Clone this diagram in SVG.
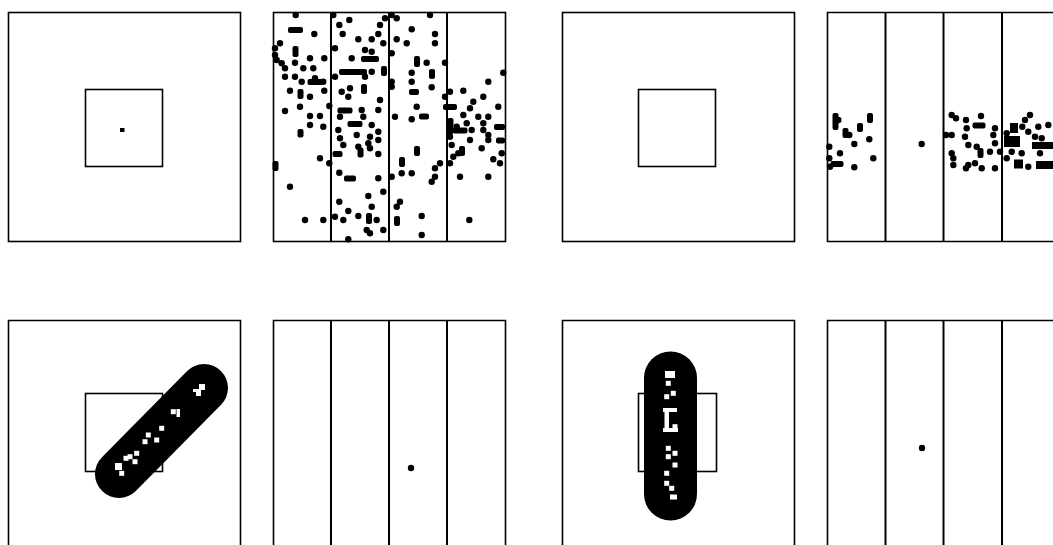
<svg xmlns="http://www.w3.org/2000/svg" xmlns:xlink="http://www.w3.org/1999/xlink" width="1053" height="545" viewBox="0 0 1053 545">
<style>
.f{fill:none;stroke:#000;stroke-width:1.6}
.dv{stroke:#000;stroke-width:2}
.k{fill:#000}
.w{fill:#fff}
.saus{stroke:#000;stroke-linecap:round;fill:none}
</style>
<defs>
<circle id="p" r="3.2" fill="#000"/>
<rect id="q" x="-2.5" y="-2.5" width="5" height="5" fill="#fff"/>
</defs>
<rect width="1053" height="545" fill="#fff"/>

<g id="panel-a1">
<rect class="f" x="8.5" y="12.5" width="232" height="229"/>
<rect class="f" x="85.5" y="89.5" width="77" height="77"/>
<rect class="k" x="120" y="128" width="4.5" height="4"/>
</g>

<g id="panel-a2">
<rect class="f" x="273.5" y="12.5" width="232" height="229"/>
<line class="dv" x1="331" y1="12" x2="331" y2="242"/>
<line class="dv" x1="389" y1="12" x2="389" y2="242"/>
<line class="dv" x1="447" y1="12" x2="447" y2="242"/>
<g id="dots-a2">
<use href="#p" x="295.7" y="15"/><rect class="k" x="288" y="27" width="15" height="6" rx="2"/><use href="#p" x="314.3" y="34"/>
<use href="#p" x="280" y="43.3"/><use href="#p" x="275" y="48.3"/><rect class="k" x="292.5" y="46" width="6" height="11" rx="2"/>
<use href="#p" x="275" y="55"/><use href="#p" x="276.7" y="60"/><use href="#p" x="281.7" y="63.3"/><use href="#p" x="310" y="58.3"/>
<use href="#p" x="324.3" y="58.3"/><use href="#p" x="295" y="62.7"/><use href="#p" x="285" y="68.3"/><use href="#p" x="303.3" y="68.3"/>
<use href="#p" x="313.3" y="68.3"/><use href="#p" x="285" y="76.7"/><use href="#p" x="295" y="76.7"/><use href="#p" x="301.7" y="81.7"/>
<rect class="k" x="307.5" y="79" width="15" height="6" rx="2"/><use href="#p" x="315" y="78.3"/><use href="#p" x="323.3" y="81.7"/>
<use href="#p" x="290" y="90.7"/><rect class="k" x="297.5" y="89" width="6" height="10" rx="2"/><use href="#p" x="310" y="96.7"/>
<use href="#p" x="324.3" y="90.7"/><use href="#p" x="300" y="106.7"/><use href="#p" x="285" y="111"/><use href="#p" x="329.3" y="106"/>
<use href="#p" x="310" y="116"/><use href="#p" x="320" y="116"/><use href="#p" x="310" y="125"/><use href="#p" x="323.3" y="126.7"/>
<rect class="k" x="297.5" y="129" width="6" height="8.5" rx="2"/><use href="#p" x="320" y="158.3"/><use href="#p" x="329.3" y="163.3"/>
<rect class="k" x="272.5" y="161" width="6" height="10" rx="2"/><use href="#p" x="290" y="186.7"/><use href="#p" x="305" y="220"/><use href="#p" x="323.3" y="220"/>

<use href="#p" x="333.3" y="15"/><use href="#p" x="349.3" y="20"/><use href="#p" x="339.3" y="25"/><use href="#p" x="380" y="25"/>
<use href="#p" x="385" y="18.3"/><use href="#p" x="342.7" y="34"/><use href="#p" x="378.3" y="34"/><use href="#p" x="358.3" y="39.3"/>
<use href="#p" x="371.7" y="39.3"/><use href="#p" x="383.3" y="43.3"/><use href="#p" x="335" y="48.3"/><use href="#p" x="365" y="50"/>
<use href="#p" x="371.7" y="51.7"/><rect class="k" x="361" y="56" width="18" height="6" rx="2"/><use href="#p" x="351.7" y="58.3"/>
<rect class="k" x="381" y="66" width="6" height="10" rx="2"/><rect class="k" x="339" y="69" width="28" height="6" rx="2"/>
<use href="#p" x="371.7" y="71.7"/><use href="#p" x="365" y="76.7"/><use href="#p" x="335" y="76.7"/><use href="#p" x="350" y="88.3"/>
<rect class="k" x="361" y="84" width="6" height="10" rx="2"/><use href="#p" x="341.7" y="91.7"/><use href="#p" x="348.3" y="96.7"/>
<use href="#p" x="380" y="100"/><rect class="k" x="337.5" y="107.5" width="15" height="6" rx="2"/><use href="#p" x="361.7" y="110"/>
<use href="#p" x="378.3" y="110"/><use href="#p" x="340" y="116.7"/><rect class="k" x="347.5" y="121" width="15" height="6" rx="2"/>
<use href="#p" x="363.3" y="116.7"/><use href="#p" x="371.7" y="125"/><use href="#p" x="378.3" y="131.7"/><use href="#p" x="338.3" y="130"/>
<use href="#p" x="340" y="138.3"/><use href="#p" x="356.7" y="135"/><use href="#p" x="370" y="136.7"/><use href="#p" x="343.3" y="145"/>
<use href="#p" x="358.3" y="146.7"/><use href="#p" x="368.3" y="143.3"/><use href="#p" x="378.3" y="140"/>
<rect class="k" x="332.5" y="151" width="10" height="6" rx="2"/><rect class="k" x="357.5" y="147.5" width="6" height="10" rx="2"/>
<use href="#p" x="370" y="148.3"/><use href="#p" x="378.3" y="154"/><use href="#p" x="339.3" y="172.7"/>
<rect class="k" x="344" y="175.5" width="12" height="6" rx="2"/><use href="#p" x="378.3" y="178.3"/><use href="#p" x="383.3" y="191.7"/>
<use href="#p" x="368.3" y="196"/><use href="#p" x="339.3" y="201.7"/><use href="#p" x="371.7" y="206.7"/><use href="#p" x="348.3" y="211"/>
<use href="#p" x="335" y="216.7"/><use href="#p" x="343.3" y="220"/><use href="#p" x="358.3" y="216"/>
<rect class="k" x="366" y="213" width="6" height="11" rx="2"/><use href="#p" x="376.7" y="220"/><use href="#p" x="366.7" y="230"/>
<use href="#p" x="383.3" y="230"/><use href="#p" x="348.3" y="239.3"/><use href="#p" x="370" y="233.3"/>

<use href="#p" x="391.7" y="15"/><use href="#p" x="430" y="15"/><use href="#p" x="396.7" y="18.3"/><use href="#p" x="411.7" y="29.3"/>
<use href="#p" x="435" y="34"/><use href="#p" x="435" y="43.3"/><use href="#p" x="396.7" y="39.3"/><use href="#p" x="406.7" y="43.3"/>
<use href="#p" x="391.7" y="53.3"/><rect class="k" x="414" y="56" width="6" height="11" rx="2"/><use href="#p" x="426.7" y="62.7"/>
<use href="#p" x="445" y="62.7"/><use href="#p" x="411.7" y="72.7"/><rect class="k" x="429" y="69" width="6" height="10" rx="2"/>
<use href="#p" x="391.7" y="81.7"/><use href="#p" x="411.7" y="81.7"/><use href="#p" x="431.7" y="87.3"/><use href="#p" x="391.7" y="86.7"/>
<rect class="k" x="409" y="89" width="10" height="6" rx="2"/><use href="#p" x="445" y="96.7"/><use href="#p" x="416.7" y="106.7"/>
<use href="#p" x="395" y="116.7"/><use href="#p" x="411.7" y="119.3"/><rect class="k" x="419" y="113.5" width="10" height="6" rx="2"/>
<rect class="k" x="414" y="146" width="6" height="10" rx="2"/><rect class="k" x="399" y="157" width="6" height="10" rx="2"/>
<use href="#p" x="440" y="163.3"/><use href="#p" x="435" y="168.3"/><use href="#p" x="401.7" y="173.3"/><use href="#p" x="411.7" y="173.3"/>
<use href="#p" x="391.7" y="176.7"/><use href="#p" x="435" y="176.7"/><use href="#p" x="431.7" y="181.7"/><use href="#p" x="400" y="201.7"/>
<use href="#p" x="396.7" y="206.7"/><rect class="k" x="394" y="216" width="6" height="10" rx="2"/><use href="#p" x="421.7" y="216"/>
<use href="#p" x="421.7" y="235"/>

<use href="#p" x="503.3" y="72.7"/><use href="#p" x="488.3" y="81.7"/><use href="#p" x="463.3" y="90.7"/><use href="#p" x="450" y="91.7"/>
<use href="#p" x="483.3" y="96.7"/><rect class="k" x="443" y="104" width="14" height="6" rx="2"/><use href="#p" x="473.3" y="101.7"/>
<use href="#p" x="470" y="108.3"/><use href="#p" x="498.3" y="106.7"/><use href="#p" x="463.3" y="115"/><use href="#p" x="478.3" y="116.7"/>
<use href="#p" x="488.3" y="116.7"/><rect class="k" x="447.5" y="118" width="6" height="11" rx="2"/><use href="#p" x="456.7" y="126.7"/>
<use href="#p" x="466.7" y="123.3"/><use href="#p" x="483.3" y="123.3"/><rect class="k" x="494" y="124" width="11" height="6" rx="2"/>
<rect class="k" x="447" y="127" width="6" height="7"/><rect class="k" x="452.5" y="127.5" width="15" height="6" rx="2"/>
<use href="#p" x="471.7" y="130"/><use href="#p" x="483.3" y="130"/><use href="#p" x="488.3" y="135"/><use href="#p" x="450" y="136.7"/>
<use href="#p" x="470" y="140"/><use href="#p" x="488.3" y="140"/><rect class="k" x="496" y="137.5" width="9" height="6" rx="2"/>
<use href="#p" x="451.7" y="145"/><rect class="k" x="459" y="146" width="6" height="10" rx="2"/><use href="#p" x="458.3" y="153.3"/>
<use href="#p" x="453.3" y="156.7"/><use href="#p" x="481.7" y="148.3"/><use href="#p" x="501.7" y="153.3"/><use href="#p" x="493.3" y="159.3"/>
<use href="#p" x="450" y="163.3"/><use href="#p" x="500" y="163.3"/><use href="#p" x="460" y="176.7"/><use href="#p" x="488.3" y="176.7"/>
<use href="#p" x="469.3" y="220"/>
</g>
</g>

<g id="panel-a3">
<rect class="f" x="562.5" y="12.5" width="232" height="229"/>
<rect class="f" x="638.5" y="89.5" width="77" height="77"/>
</g>

<g id="panel-a4">
<path class="f" d="M1053 12.5H827.5V241.5H1053"/>
<line class="dv" x1="885.5" y1="12" x2="885.5" y2="242"/>
<line class="dv" x1="943.5" y1="12" x2="943.5" y2="242"/>
<line class="dv" x1="1002" y1="12" x2="1002" y2="242"/>
<g id="dots-a4">
<rect class="k" x="832.5" y="113" width="6" height="17" rx="2"/><use href="#p" x="838.3" y="120"/><rect class="k" x="867" y="113" width="6" height="10" rx="2"/>
<rect class="k" x="857" y="123" width="6" height="9" rx="2"/><use href="#p" x="849.3" y="135"/><rect class="k" x="842.5" y="128" width="6" height="10" rx="2"/>
<use href="#p" x="869.3" y="139.3"/><use href="#p" x="854.3" y="144"/><use href="#p" x="829.3" y="146.7"/><use href="#p" x="840" y="153.3"/>
<use href="#p" x="873.3" y="158.3"/><use href="#p" x="829.3" y="158.3"/><rect class="k" x="830.5" y="161" width="13" height="6" rx="2"/>
<use href="#p" x="830" y="166.7"/><use href="#p" x="854.3" y="167.3"/>
<use href="#p" x="921.7" y="144"/>
<use href="#p" x="951.7" y="115"/><use href="#p" x="956" y="118.3"/><use href="#p" x="966" y="120"/><use href="#p" x="981" y="116"/>
<rect class="k" x="972.5" y="122.5" width="13" height="6" rx="2"/><use href="#p" x="966.7" y="128.3"/><use href="#p" x="995" y="128.3"/>
<use href="#p" x="946" y="135"/><use href="#p" x="951.7" y="135"/><use href="#p" x="965" y="136.7"/><use href="#p" x="993.3" y="135"/>
<use href="#p" x="968.3" y="145"/><use href="#p" x="976.7" y="146.7"/><use href="#p" x="995" y="143.3"/><use href="#p" x="951.7" y="153.3"/>
<rect class="k" x="977.5" y="148" width="6" height="10" rx="2"/><use href="#p" x="990" y="151.7"/><use href="#p" x="1000" y="151.7"/>
<use href="#p" x="953.3" y="158.3"/><use href="#p" x="975" y="163.3"/><use href="#p" x="968.3" y="165"/><use href="#p" x="953.3" y="165"/>
<use href="#p" x="966" y="168.3"/><use href="#p" x="981.7" y="168.3"/><use href="#p" x="995" y="168.3"/>
<use href="#p" x="1030" y="115"/><use href="#p" x="1025" y="120"/><rect class="k" x="1010" y="123" width="8" height="10"/>
<use href="#p" x="1022.3" y="126.7"/><use href="#p" x="1038.3" y="126.7"/><use href="#p" x="1048.3" y="125"/><use href="#p" x="1006.7" y="133.3"/>
<rect class="k" x="1004" y="136" width="16" height="11"/><use href="#p" x="1028.3" y="131.7"/><use href="#p" x="1035" y="136.7"/>
<use href="#p" x="1041.7" y="138.3"/><rect class="k" x="1032" y="142" width="21" height="7"/><use href="#p" x="1011.7" y="151.7"/>
<use href="#p" x="1021.7" y="153.3"/><use href="#p" x="1040" y="153.3"/><use href="#p" x="1006.7" y="158.3"/>
<rect class="k" x="1014" y="159.5" width="9" height="9"/><use href="#p" x="1028.3" y="166.7"/><rect class="k" x="1036" y="161" width="17" height="8"/>
</g>
</g>

<g id="panel-b1">
<path class="f" d="M8.5 545V320.5H240.5V545"/>
<rect class="f" x="85.5" y="393.5" width="77" height="78"/>
<line class="saus" x1="119" y1="474" x2="204" y2="388" stroke-width="48"/>
<g id="marks-b1">
<path class="w" d="M193 389h6v-5h6v6h-4v6h-5v-4h-3z"/>
<use href="#q" x="173.3" y="411.7"/><rect class="w" x="176.5" y="409" width="3.5" height="8"/>
<use href="#q" x="161.7" y="428.3"/><use href="#q" x="148.3" y="435"/><use href="#q" x="156.7" y="440"/><use href="#q" x="145" y="441.7"/>
<use href="#q" x="136.7" y="453.3"/><use href="#q" x="130" y="456.7"/><use href="#q" x="135" y="461.7"/><use href="#q" x="126" y="458.3"/>
<rect class="w" x="115" y="463" width="7" height="7"/><use href="#q" x="121.7" y="473.3"/>
</g>
</g>

<g id="panel-b2">
<path class="f" d="M273.5 545V320.5H505.5V545"/>
<line class="dv" x1="331" y1="320" x2="331" y2="545"/>
<line class="dv" x1="389" y1="320" x2="389" y2="545"/>
<line class="dv" x1="447" y1="320" x2="447" y2="545"/>
<use href="#p" x="411" y="468"/>
</g>

<g id="panel-b3">
<path class="f" d="M562.5 545V320.5H794.5V545"/>
<rect class="f" x="638.5" y="393.5" width="78" height="78"/>
<line class="saus" x1="670.5" y1="378" x2="670.5" y2="494" stroke-width="53"/>
<g id="marks-b3">
<rect class="w" x="665" y="371" width="10" height="7"/><use href="#q" x="668.3" y="383.3"/><use href="#q" x="673.3" y="393.3"/>
<use href="#q" x="666.7" y="396.7"/><rect class="w" x="663" y="408" width="14" height="4"/><rect class="w" x="664.5" y="410" width="4.5" height="20"/>
<use href="#q" x="675" y="426.7"/><rect class="w" x="663" y="428" width="15" height="4"/><use href="#q" x="668.3" y="448.3"/>
<use href="#q" x="675" y="453.3"/><use href="#q" x="668.3" y="456.7"/><use href="#q" x="675" y="465"/><use href="#q" x="666.7" y="473.3"/>
<use href="#q" x="666.7" y="483.3"/><use href="#q" x="671.7" y="488.3"/><rect class="w" x="670" y="494.5" width="7" height="5"/>
</g>
</g>

<g id="panel-b4">
<path class="f" d="M1053 320.5H827.5V545"/>
<line class="dv" x1="885.5" y1="320" x2="885.5" y2="545"/>
<line class="dv" x1="943.5" y1="320" x2="943.5" y2="545"/>
<line class="dv" x1="1002" y1="320" x2="1002" y2="545"/>
<use href="#p" x="922" y="448"/>
</g>
</svg>
